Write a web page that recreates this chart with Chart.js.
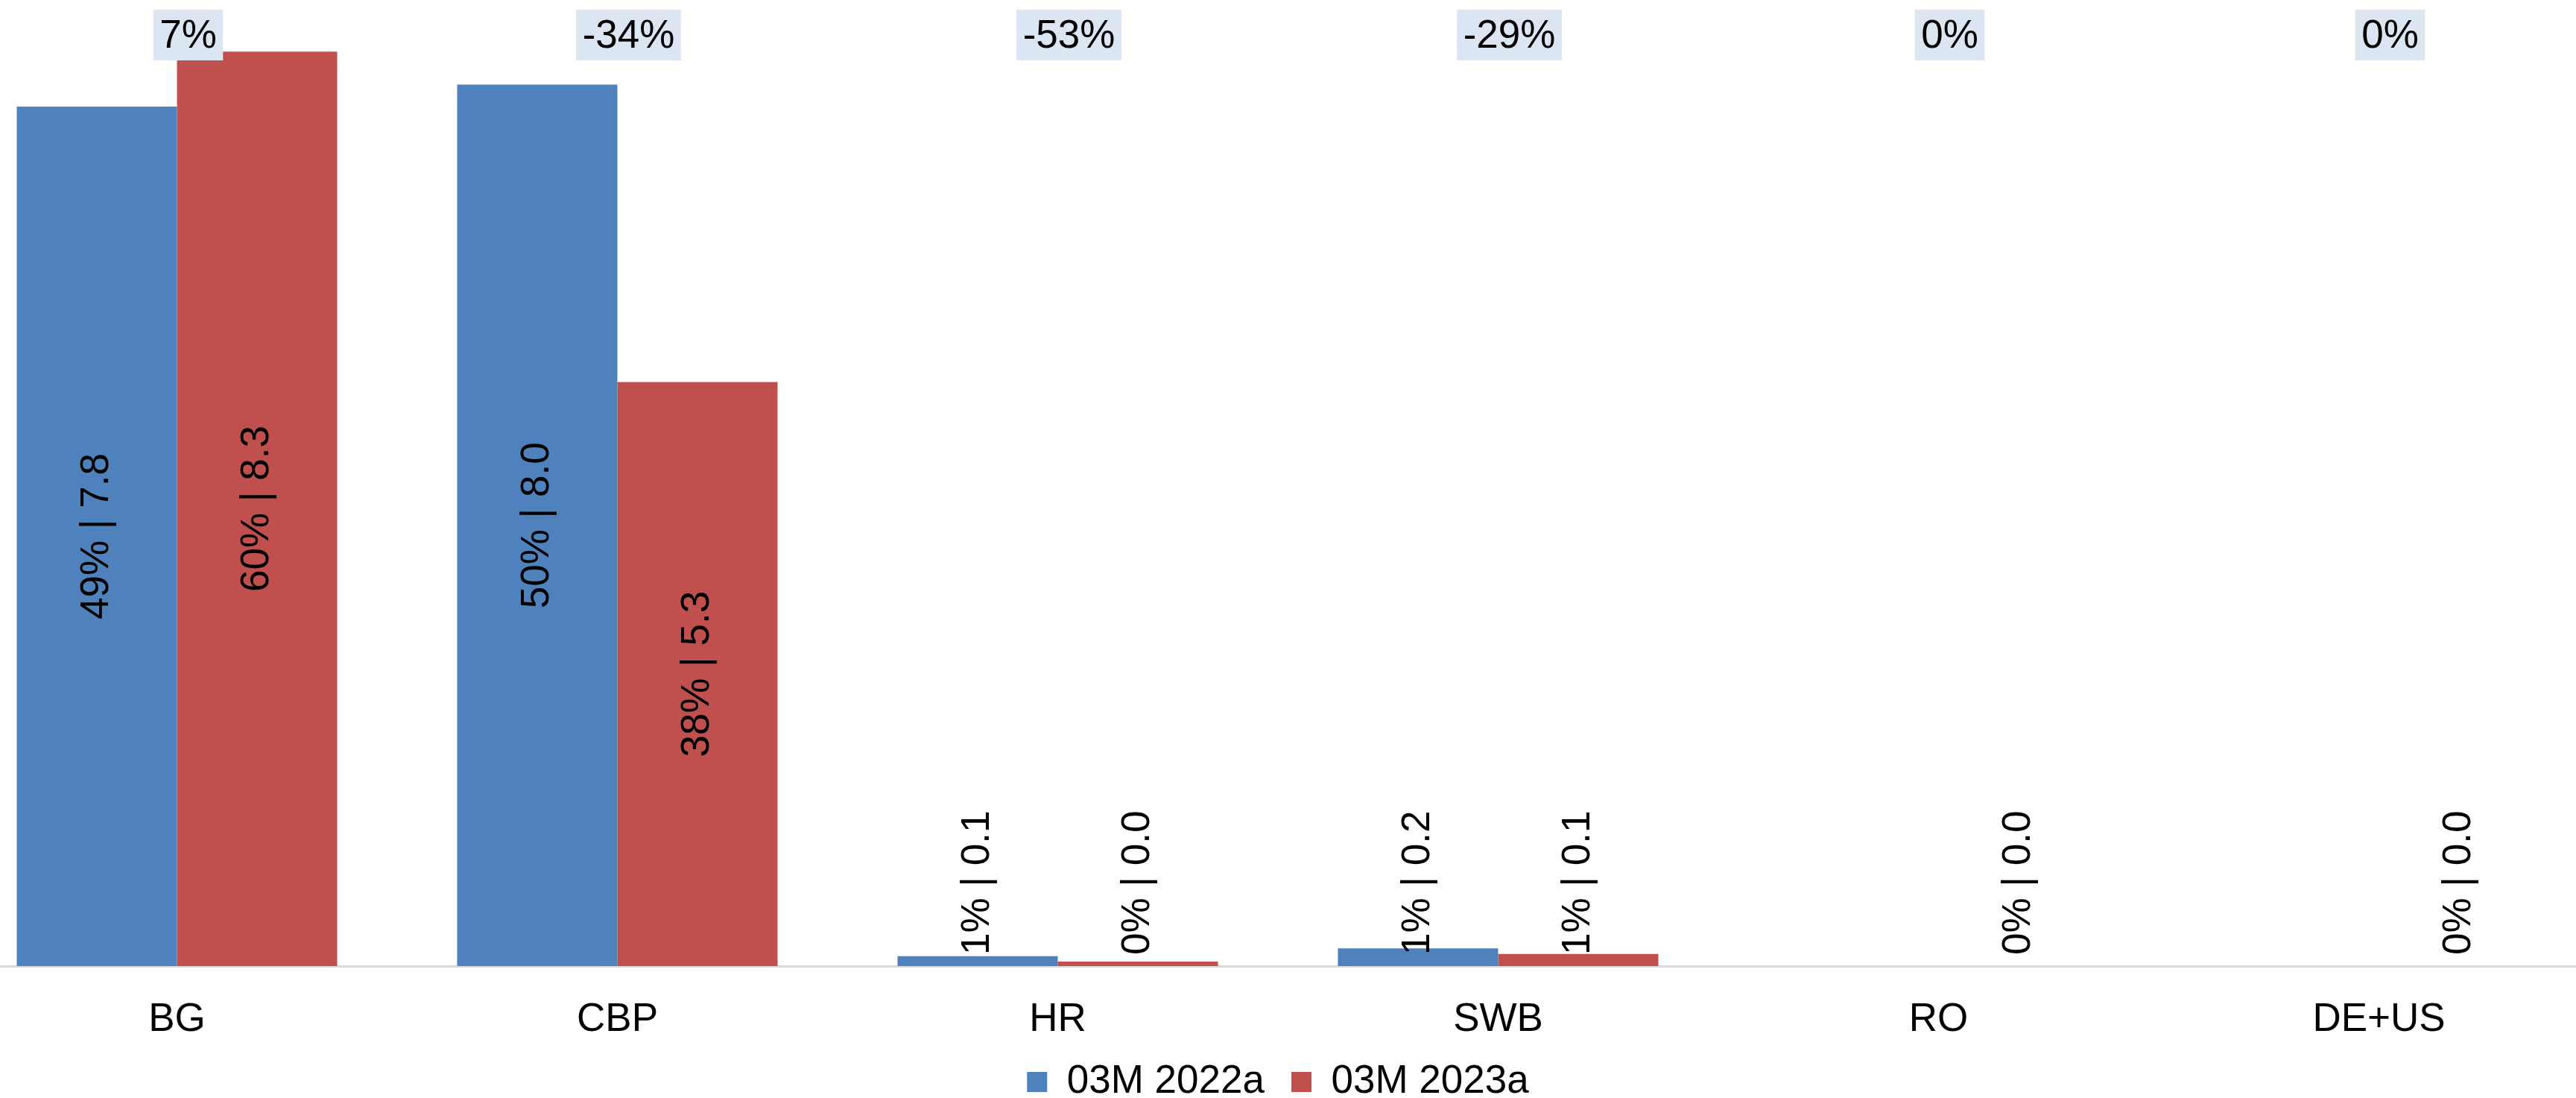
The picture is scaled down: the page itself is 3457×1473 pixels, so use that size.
<!DOCTYPE html>
<html>
<head>
<meta charset="utf-8">
<title>03M 2022a / 03M 2023a</title>
<script src="https://cdn.jsdelivr.net/npm/chart.js@4.4.0/dist/chart.umd.min.js"></script>
<style>
  html, body { margin: 0; padding: 0; background: #fff; overflow: hidden; width: 3457px; height: 1473px; }
  /* plot is a little wider than the page, outer halves of BG and DE+US run off the edges */
  #wrap { position: absolute; left: -58px; top: 0; width: 3546px; height: 1488px; }
</style>
</head>
<body>
<div id="wrap"><canvas id="barChart"></canvas></div>
<script>
const categories = ['BG', 'CBP', 'HR', 'SWB', 'RO', 'DE+US']
const values2022 = [7.8, 8.0, 0.09, 0.16, null, null]
const values2023 = [8.3, 5.3, 0.04, 0.11, 0, 0]
const share2022 = [49, 50, 1, 1, null, null]
const share2023 = [60, 38, 0, 1, 0, 0]
const change = [7, -34, -53, -29, 0, 0]

const shares = [share2022, share2023]
const labelFont = '53px "Liberation Sans", Arial, sans-serif'

// "49% | 7.8" written upwards in each bar
const barLabels = {
  id: 'barLabels',
  afterDatasetsDraw(chart) {
    const ctx = chart.ctx
    ctx.save()
    ctx.font = labelFont
    ctx.fillStyle = '#000'
    ctx.textBaseline = 'middle'
    chart.data.datasets.forEach((ds, d) => {
      chart.getDatasetMeta(d).data.forEach((bar, i) => {
        const v = ds.data[i]
        if (v === null || v === undefined) return
        const text = shares[d][i] + '% | ' + v.toFixed(1)
        const w = ctx.measureText(text).width
        const h = bar.base - bar.y
        const inside = h > w + 40
        ctx.save()
        ctx.translate(bar.x, inside ? (bar.y + bar.base) / 2 : bar.base - 15)
        ctx.rotate(-Math.PI / 2)
        ctx.textAlign = inside ? 'center' : 'left'
        ctx.fillText(text, 0, 0)
        ctx.restore()
      })
    })
    ctx.restore()
  }
}

// year-on-year change boxes along the top
const changeLabels = {
  id: 'changeLabels',
  afterDraw(chart) {
    const ctx = chart.ctx
    const xScale = chart.scales.x
    ctx.save()
    ctx.font = labelFont
    ctx.textAlign = 'center'
    ctx.textBaseline = 'middle'
    change.forEach((c, i) => {
      const text = c + '%'
      const w = ctx.measureText(text).width + 17
      const cx = xScale.getPixelForValue(i) + 15
      ctx.fillStyle = '#DCE6F2'
      ctx.fillRect(cx - w / 2, 13, w, 68)
      ctx.fillStyle = '#000'
      ctx.fillText(text, cx, 49)
    })
    ctx.restore()
  }
}

const data = {
  labels: categories,
  datasets: [{
    label: '03M 2022a',
    data: values2022,
    backgroundColor: '#4F81BD'
  }, {
    label: '03M 2023a',
    data: values2023,
    backgroundColor: '#C0504D'
  }]
}

const config = {
  type: 'bar',
  data: data,
  options: {
    responsive: true,
    maintainAspectRatio: false,
    animation: false,
    categoryPercentage: 0.7276,
    barPercentage: 1.0,
    layout: { padding: 0 },
    plugins: {
      tooltip: { enabled: false },
      legend: {
        position: 'bottom',
        labels: {
          boxWidth: 27,
          boxHeight: 27,
          padding: 36,
          color: '#000',
          font: { size: 53 }
        }
      }
    },
    scales: {
      x: {
        grid: { display: false, drawTicks: false },
        border: { color: '#D9D9D9', width: 3 },
        ticks: { color: '#000', padding: 46, font: { size: 53, lineHeight: 1 } },
        afterFit: (scale) => { scale.height = 93 }
      },
      y: {
        display: false,
        min: 0,
        max: 8.768
      }
    }
  },
  plugins: [barLabels, changeLabels]
}

Chart.defaults.font.family = '"Liberation Sans", Arial, sans-serif'
const myChart = new Chart(
  document.getElementById('barChart'),
  config
)
</script>
</body>
</html>
